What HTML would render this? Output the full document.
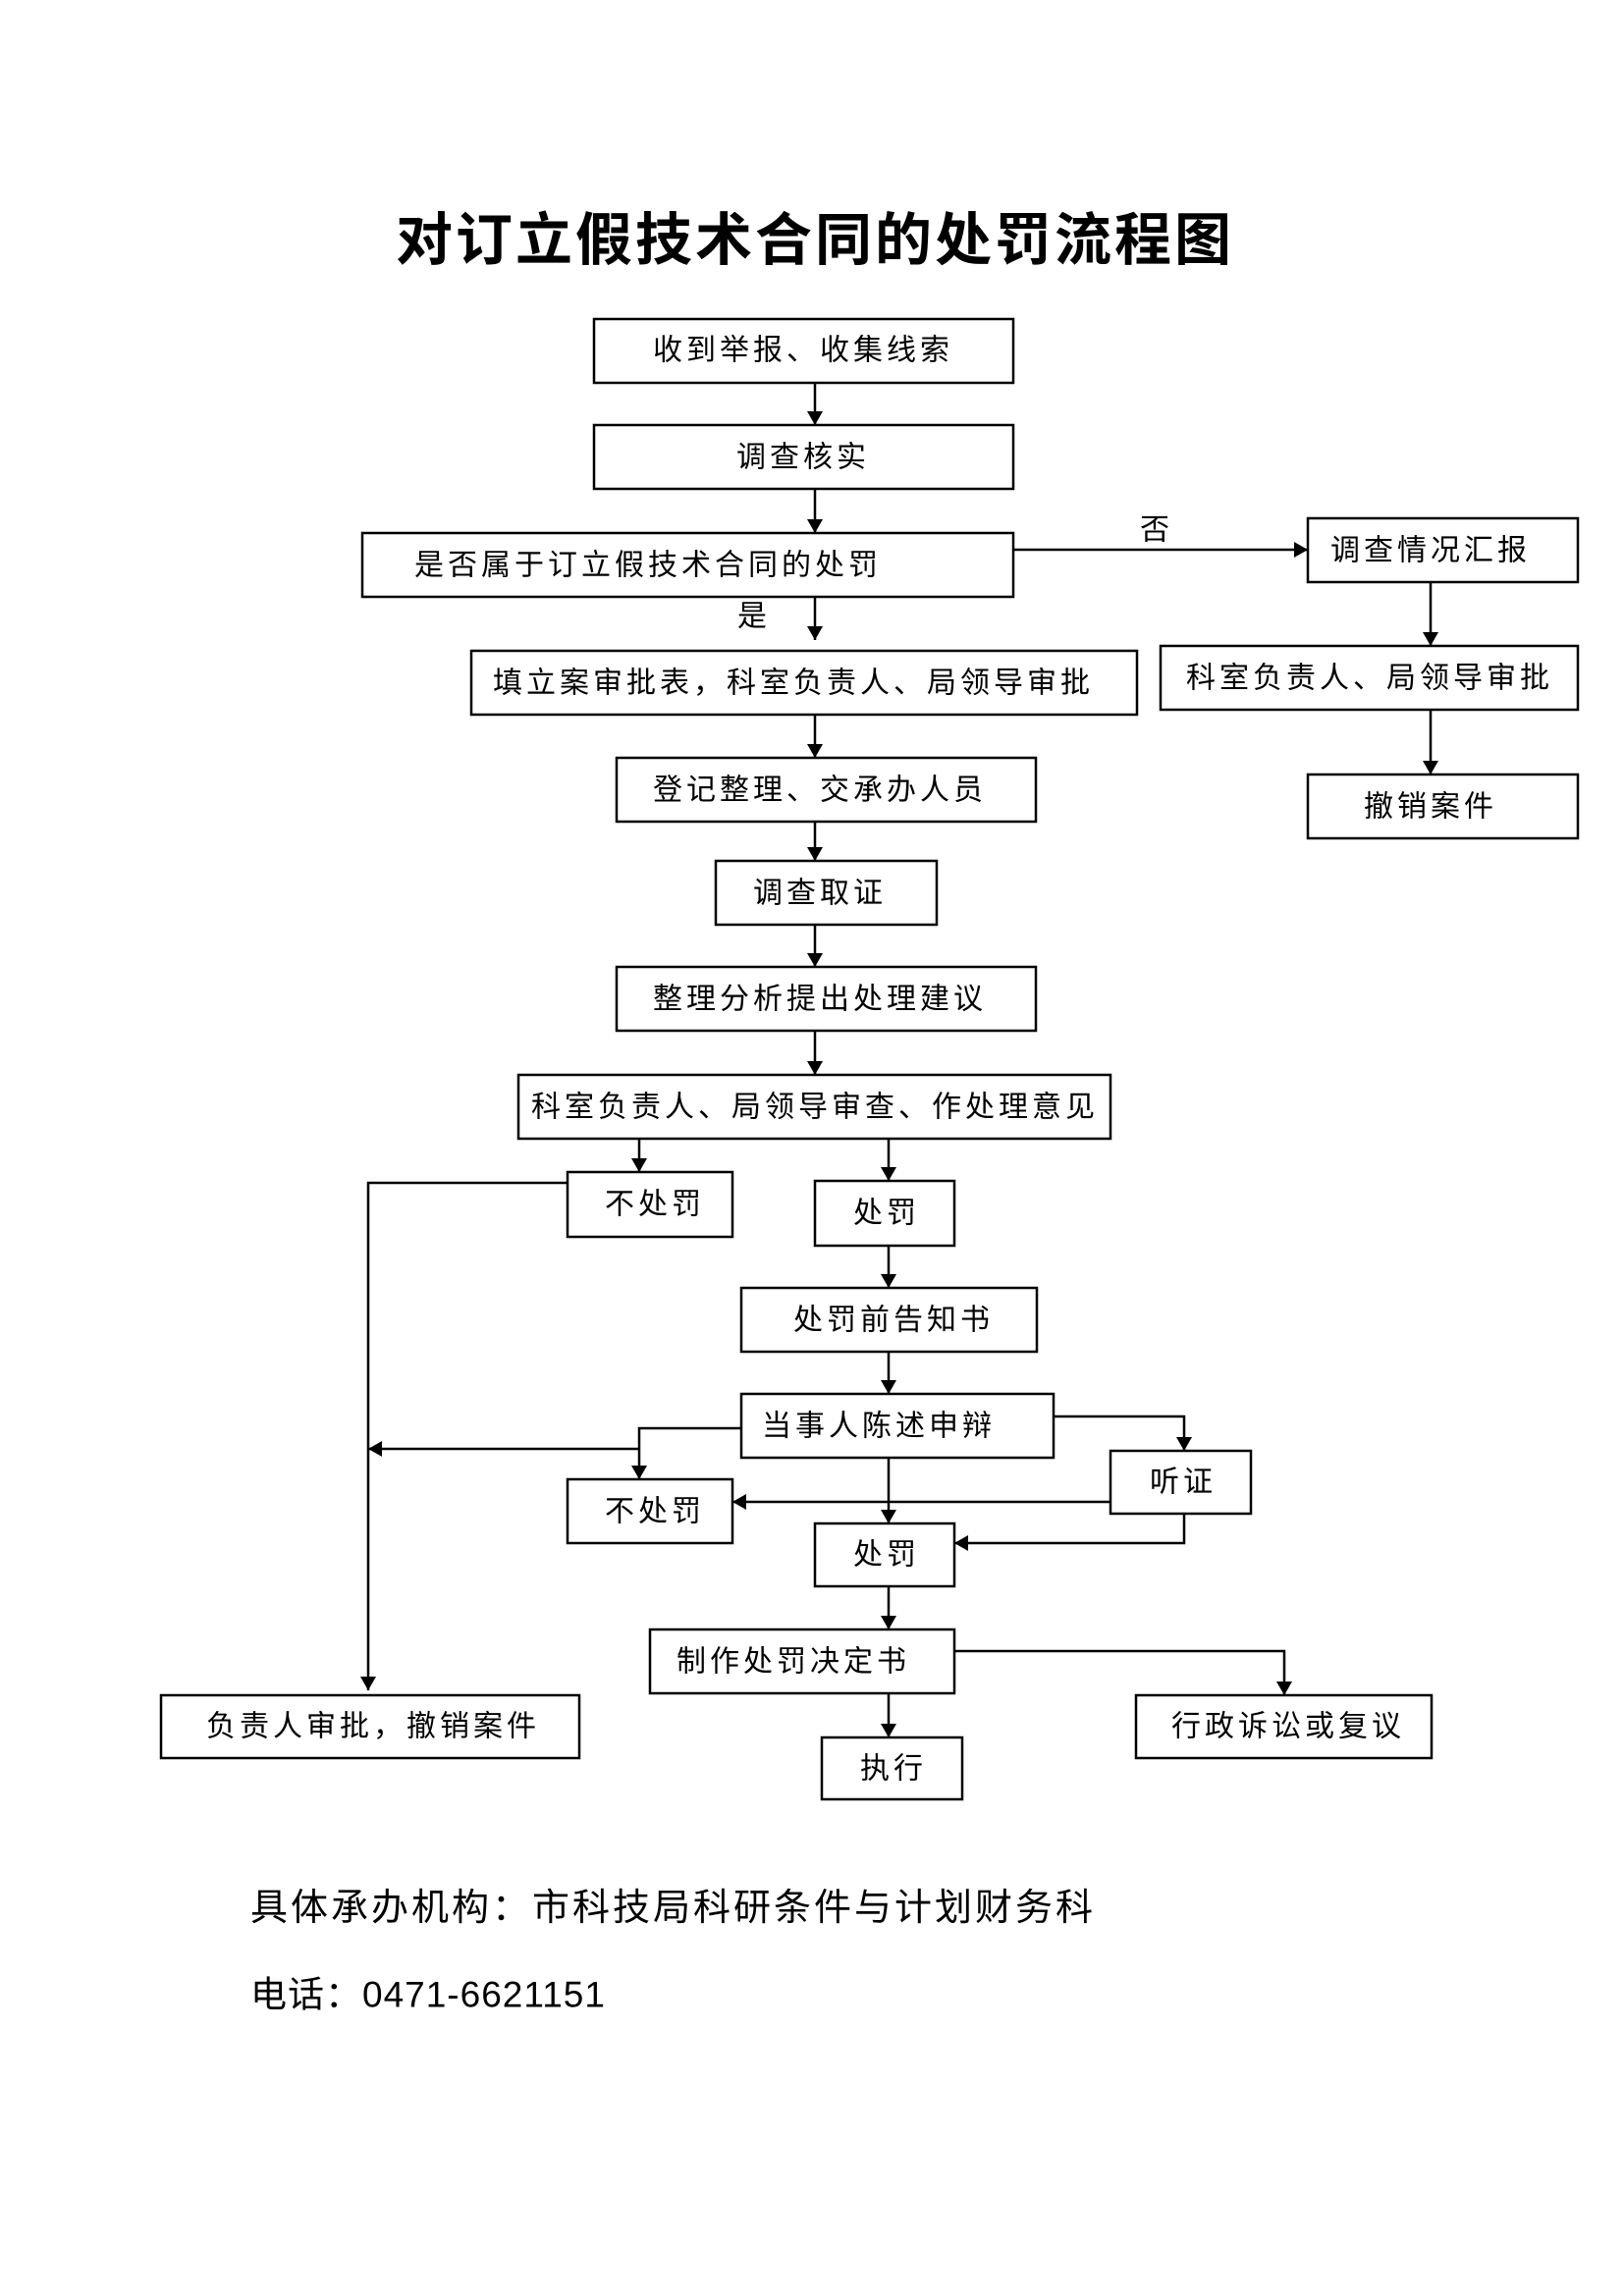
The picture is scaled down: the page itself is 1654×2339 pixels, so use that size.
<!DOCTYPE html>
<html><head><meta charset="utf-8"><style>
html,body{margin:0;padding:0;background:#fff}
svg{display:block}
text{font-family:"Liberation Sans","Noto Sans CJK SC","WenQuanYi Zen Hei",sans-serif;fill:#000}
.t{font-size:30px;letter-spacing:4px;text-anchor:middle;dominant-baseline:central}
rect{fill:#fff;stroke:#000;stroke-width:2.5}
line,polyline{stroke:#000;stroke-width:2.5;fill:none}
</style></head><body>
<svg width="1654" height="2339" viewBox="0 0 1654 2339" xmlns="http://www.w3.org/2000/svg">
<defs>
<marker id="b" markerWidth="14" markerHeight="22" refX="14" refY="11" orient="auto" markerUnits="userSpaceOnUse"><path d="M0,3 L14,11 L0,19z" fill="#000"/></marker></defs>
<text x="830" y="245" style="font-size:58px;letter-spacing:3px;font-weight:bold;text-anchor:middle;dominant-baseline:central">对订立假技术合同的处罚流程图</text>

<g marker-end="url(#b)">
<line x1="830" y1="390" x2="830" y2="433"/>
<line x1="830" y1="498" x2="830" y2="543"/>
<line x1="1032" y1="560" x2="1332" y2="560"/>
<line x1="830" y1="608" x2="830" y2="652"/>
<line x1="1457" y1="593" x2="1457" y2="658"/>
<line x1="1457" y1="723" x2="1457" y2="789"/>
<line x1="830" y1="728" x2="830" y2="772"/>
<line x1="830" y1="837" x2="830" y2="877"/>
<line x1="830" y1="942" x2="830" y2="985"/>
<line x1="830" y1="1050" x2="830" y2="1095"/>
<line x1="651" y1="1160" x2="651" y2="1194"/>
<line x1="905" y1="1160" x2="905" y2="1203"/>
<line x1="905" y1="1269" x2="905" y2="1312"/>
<line x1="905" y1="1377" x2="905" y2="1420"/>
<polyline points="578,1205 375,1205 375,1722"/>
<polyline points="755,1455 651,1455 651,1507"/>
<line x1="651" y1="1476" x2="375" y2="1476"/>
<polyline points="1073,1443 1206,1443 1206,1478"/>
<line x1="1131" y1="1530" x2="746" y2="1530"/>
<polyline points="1206,1542 1206,1572 972,1572"/>
<line x1="905" y1="1485" x2="905" y2="1552"/>
<line x1="905" y1="1616" x2="905" y2="1660"/>
<polyline points="972,1682 1308,1682 1308,1727"/>
<line x1="905" y1="1725" x2="905" y2="1770"/>
</g>

<rect x="605" y="325" width="427" height="65"/><text class="t" x="818" y="357">收到举报、收集线索</text>
<rect x="605" y="433" width="427" height="65"/><text class="t" x="818" y="466">调查核实</text>
<rect x="369" y="543" width="663" height="65"/><text class="t" x="660" y="576">是否属于订立假技术合同的处罚</text>
<text x="1176" y="540" style="font-size:30px;text-anchor:middle;dominant-baseline:central">否</text>
<text x="766" y="628" style="font-size:30px;text-anchor:middle;dominant-baseline:central">是</text>
<rect x="1332" y="528" width="275" height="65"/><text class="t" x="1457" y="561">调查情况汇报</text>
<rect x="1182" y="658" width="425" height="65"/><text class="t" x="1395" y="691">科室负责人、局领导审批</text>
<rect x="1332" y="789" width="275" height="65"/><text class="t" x="1457" y="822">撤销案件</text>
<rect x="480" y="663" width="678" height="65"/><text class="t" x="808" y="696">填立案审批表，科室负责人、局领导审批</text>
<rect x="628" y="772" width="427" height="65"/><text class="t" x="835" y="805">登记整理、交承办人员</text>
<rect x="729" y="877" width="225" height="65"/><text class="t" x="835" y="910">调查取证</text>
<rect x="628" y="985" width="427" height="65"/><text class="t" x="835" y="1018">整理分析提出处理建议</text>
<rect x="528" y="1095" width="603" height="65"/><text class="t" x="830" y="1128">科室负责人、局领导审查、作处理意见</text>
<rect x="578" y="1194" width="168" height="66"/><text class="t" x="667" y="1227">不处罚</text>
<rect x="830" y="1203" width="142" height="66"/><text class="t" x="903" y="1236">处罚</text>
<rect x="755" y="1312" width="301" height="65"/><text class="t" x="910" y="1345">处罚前告知书</text>
<rect x="755" y="1420" width="318" height="65"/><text class="t" x="895" y="1453">当事人陈述申辩</text>
<rect x="578" y="1507" width="168" height="65"/><text class="t" x="667" y="1540">不处罚</text>
<rect x="1131" y="1478" width="143" height="64"/><text class="t" x="1205" y="1510">听证</text>
<rect x="830" y="1552" width="142" height="64"/><text class="t" x="903" y="1584">处罚</text>
<rect x="662" y="1660" width="310" height="65"/><text class="t" x="808" y="1693">制作处罚决定书</text>
<rect x="1157" y="1727" width="301" height="64"/><text class="t" x="1312" y="1759">行政诉讼或复议</text>
<rect x="837" y="1770" width="143" height="63"/><text class="t" x="910" y="1802">执行</text>
<rect x="164" y="1727" width="426" height="64"/><text class="t" x="380" y="1759">负责人审批，撤销案件</text>

<text x="255" y="1944" style="font-size:38px;letter-spacing:3px;dominant-baseline:central">具体承办机构：市科技局科研条件与计划财务科</text>
<text x="255" y="2032" style="font-size:37px;letter-spacing:1px;dominant-baseline:central">电话：0471-6621151</text>
</svg>
</body></html>
